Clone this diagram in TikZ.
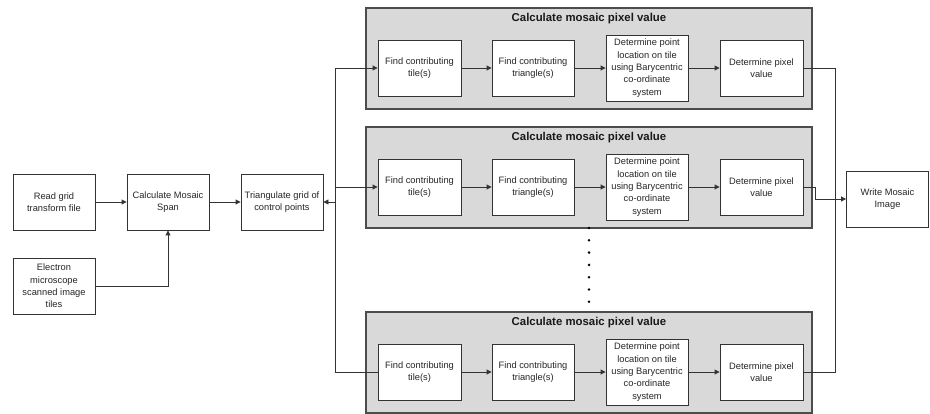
\documentclass[tikz,border=0pt]{standalone}
\usepackage{fontspec}
\setmainfont{Liberation Sans}
\usetikzlibrary{arrows.meta,calc}
\definecolor{panelfill}{HTML}{D9D9D9}
\definecolor{linec}{HTML}{333333}
\tikzset{
  box/.style={draw=linec, line width=0.9pt, fill=white, minimum width=82pt, minimum height=56pt,
    align=center, inner sep=1pt, font=\fontsize{9.3}{12.4}\selectfont, text=black!85},
  tallbox/.style={box, minimum height=66pt},
  panel/.style={draw=black!70, line width=1.1pt, fill=panelfill, minimum width=446pt, minimum height=101pt, inner sep=0pt},
  ptitle/.style={font=\fontsize{11.4}{13}\selectfont\bfseries, text=black!90, inner sep=0pt},
  conn/.style={draw=linec, line width=0.9pt},
  arr/.style={conn, -{Triangle[length=5pt,width=5pt]}},
  dotmark/.style={fill=black, circle, inner sep=0pt, minimum size=2.8pt}
}
\begin{document}
\begin{tikzpicture}[x=1pt,y=-1pt]
\useasboundingbox (0,0) rectangle (930,414);
% left boxes
\node[box] (read) at (54,202) {Read grid\\transform file};
\node[box] (span) at (168,202) {Calculate Mosaic\\Span};
\node[box] (tri) at (282,202) {Triangulate grid of\\control points};
\node[box] (elec) at (54,286) {Electron\\microscope\\scanned image\\tiles};
\node[box] (write) at (887.5,199) {Write Mosaic\\Image};
% panels
\foreach \i/\py in {1/58.5, 2/177.5, 3/362.5} {
  \node[panel] (panel\i) at (589,\py) {};
  \node[ptitle] (title\i) at (589,\py-40) {Calculate mosaic pixel value};
  \node[box, minimum width=83pt] (tile\i) at (419.5,\py+9.5) {Find contributing\\tile(s)};
  \node[box] (trig\i) at (533,\py+9.5) {Find contributing\\triangle(s)};
  \node[tallbox] (dpt\i) at (647,\py+9.5) {Determine point\\location on tile\\using Barycentric\\co-ordinate\\system};
  \node[box, minimum width=83pt] (dpix\i) at (761.5,\py+9.5) {Determine pixel\\value};
  \draw[arr] (tile\i) -- (trig\i);
  \draw[arr] (trig\i) -- (dpt\i);
  \draw[arr] (dpt\i) -- (dpix\i);
}
% left connectors
\draw[arr] (read) -- (span);
\draw[arr] (span) -- (tri);
\draw[arr] (elec.east) -| (span.south);
% bus
\coordinate (bustop) at (335,0 |- tile1.west);
\coordinate (busbot) at (335,0 |- tile3.west);
\draw[conn] (bustop) -- (busbot);
\draw[arr] (bustop |- tri.east) -- (tri.east);
\draw[arr] (bustop) -- (tile1.west);
\draw[arr] (bustop |- tile2.west) -- (tile2.west);
\draw[conn] (busbot) -- (tile3.west);
% right connectors
\coordinate (rtop) at (835,0 |- dpix1.east);
\coordinate (rbot) at (835,0 |- dpix3.east);
\draw[conn] (dpix1.east) -- (rtop) -- (rbot) -- (dpix3.east);
\coordinate (mid) at (815,0 |- dpix2.east);
\draw[arr] (dpix2.east) -- (mid) -- (mid |- write.west) -- (write.west);
% dots
\foreach \k/\dy in {1/228, 2/240.3, 3/252.6, 4/264.9, 5/277.2, 6/289.5, 7/301.8} {
  \node[dotmark] (dot\k) at (589,\dy) {};
}
\end{tikzpicture}
\end{document}
